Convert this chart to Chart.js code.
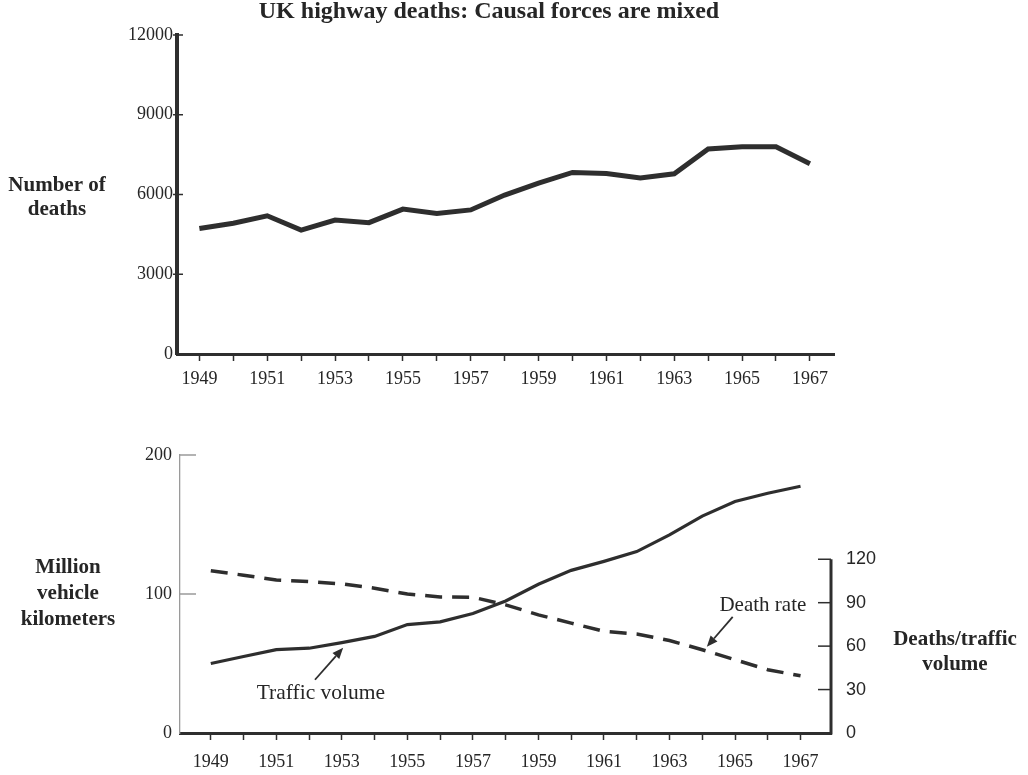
<!DOCTYPE html>
<html><head><meta charset="utf-8">
<script src="https://cdn.jsdelivr.net/npm/chart.js@4.4.0/dist/chart.umd.min.js"></script>
<style>
html,body{margin:0;padding:0;background:#fff;}
#wrap{position:relative;width:1028px;height:775px;overflow:hidden;}
.box{position:absolute;left:0;width:1028px;}
</style></head><body>
<div id="wrap">
<div class="box" style="top:0;height:400px"><canvas id="c1"></canvas></div>
<div class="box" style="top:400px;height:375px"><canvas id="c2"></canvas></div>
</div>
<script>
// ---- data ----
const years = [1949,1950,1951,1952,1953,1954,1955,1956,1957,1958,1959,1960,1961,1962,1963,1964,1965,1966,1967];
const deaths = [4720,4920,5200,4660,5040,4940,5450,5290,5420,5980,6430,6830,6790,6620,6780,7710,7800,7800,7160];
const trafficVolume = [50,55,60,61,65,69.5,78,80,86,95,107,117,123.5,130.5,142.5,156,166.5,172.5,177.5];
const deathRate = [112,109,105.7,104.6,103,100,96,94,93.8,88.5,81.6,75.9,70.2,68.3,63.9,57.5,50.6,43.7,39.5];
const deathTicks = [0,3000,6000,9000,12000];
const kmTicks = [0,100,200];
const rateTicks = [0,30,60,90,120];

const INK = '#2e2e2e';
const TXT = '#262626';
const SERIF = '"Liberation Serif", "Times New Roman", serif';
const SANS = '"Liberation Sans", Arial, sans-serif';

function pts(vals){ return years.map((y,i)=>({x:y, y:vals[i]})); }
function xTickLabel(v){ return (v % 2 === 1) ? String(v) : ''; }
function plain(v){ return String(v); }

function drawLines(ctx, lines, font, x, y0, lh){
  ctx.save();
  ctx.font = font; ctx.fillStyle = TXT; ctx.textAlign = 'center'; ctx.textBaseline = 'middle';
  lines.forEach((t,i)=>ctx.fillText(t, x, y0 + i*lh));
  ctx.restore();
}
function arrow(ctx, x1, y1, x2, y2){
  ctx.save();
  ctx.strokeStyle = INK; ctx.fillStyle = INK; ctx.lineWidth = 1.8;
  const a = Math.atan2(y2-y1, x2-x1), L = 11, W = 4.5;
  const bx = x2 - L*Math.cos(a), by = y2 - L*Math.sin(a);
  ctx.beginPath(); ctx.moveTo(x1,y1); ctx.lineTo(bx,by); ctx.stroke();
  ctx.beginPath(); ctx.moveTo(x2,y2);
  ctx.lineTo(bx + W*Math.sin(a), by - W*Math.cos(a));
  ctx.lineTo(bx - W*Math.sin(a), by + W*Math.cos(a));
  ctx.closePath(); ctx.fill();
  ctx.restore();
}

// ---- top chart ----
const topDecor = {
  id:'topDecor',
  afterDraw(chart){
    const {ctx, chartArea:ca, scales} = chart;
    ctx.save();
    ctx.strokeStyle = INK; ctx.lineWidth = 1.5;
    deathTicks.forEach(v=>{ if(v===0) return; const y = scales.y.getPixelForValue(v);
      ctx.beginPath(); ctx.moveTo(ca.left-4, y); ctx.lineTo(ca.left+6, y); ctx.stroke(); });
    ctx.restore();
    drawLines(ctx, ['UK highway deaths: Causal forces are mixed'], 'bold 24px '+SERIF, 489, 12, 0);
    drawLines(ctx, ['Number of','deaths'], 'bold 21px '+SERIF, 57, 186, 24);
  }
};

new Chart(document.getElementById('c1'), {
  type:'line',
  data:{ datasets:[{ label:'Number of deaths', data:pts(deaths), borderColor:INK, borderWidth:5,
    pointRadius:0, tension:0, fill:false, borderJoinStyle:'miter' }]},
  options:{
    responsive:true, maintainAspectRatio:false, animation:false, devicePixelRatio:1,
    layout:{padding:{top:35,right:194,bottom:0,left:0}},
    plugins:{legend:{display:false}, tooltip:{enabled:false}, title:{display:false}},
    scales:{
      x:{ type:'linear', min:1948.34, max:1967.71,
        afterBuildTicks:s=>{ s.ticks = years.map(v=>({value:v})); },
        afterFit:s=>{ s.height = 46; },
        grid:{drawOnChartArea:false, drawTicks:true, tickLength:7, tickColor:INK, tickWidth:1.5},
        border:{display:true, color:INK, width:3},
        ticks:{autoSkip:false, maxRotation:0, padding:7, color:TXT, font:{family:SERIF, size:18}, callback:xTickLabel}
      },
      y:{ min:0, max:12000,
        afterBuildTicks:s=>{ s.ticks = deathTicks.map(v=>({value:v})); },
        afterFit:s=>{ s.width = 177; },
        grid:{drawOnChartArea:false, drawTicks:false},
        border:{display:true, color:INK, width:4},
        ticks:{padding:4, color:TXT, font:{family:SERIF, size:18}, callback:plain}
      }
    }
  },
  plugins:[topDecor]
});

// ---- bottom chart ----
const ann = {
  traffic:{ text:'Traffic volume', tx:1952.36, ty:28.6, ax1:1952.18, ay1:38.3, ax2:1953.04, ay2:61.3 },
  rate:{ text:'Death rate', tx:1965.85, ty:87.8, ax1:1964.93, ay1:80.2, ax2:1964.14, ay2:59.5 }
};
const bottomDecor = {
  id:'bottomDecor',
  afterDraw(chart){
    const {ctx, chartArea:ca, scales} = chart;
    const X = scales.x, Y = scales.y, Y2 = scales.y2;
    ctx.save();
    ctx.strokeStyle = '#9a9a9a'; ctx.lineWidth = 1.5;
    kmTicks.forEach(v=>{ if(v===0) return; const y = Y.getPixelForValue(v);
      ctx.beginPath(); ctx.moveTo(ca.left, y); ctx.lineTo(ca.left+16, y); ctx.stroke(); });
    ctx.strokeStyle = INK; ctx.lineWidth = 3;
    const yTop = Y2.getPixelForValue(120);
    ctx.beginPath(); ctx.moveTo(ca.right, yTop); ctx.lineTo(ca.right, ca.bottom+1.5); ctx.stroke();
    ctx.lineWidth = 1.5;
    rateTicks.forEach(v=>{ if(v===0) return; const y = Y2.getPixelForValue(v);
      ctx.beginPath(); ctx.moveTo(ca.right-13, y); ctx.lineTo(ca.right, y); ctx.stroke(); });
    ctx.restore();
    const t = ann.traffic, r = ann.rate;
    drawLines(ctx, [t.text], '21.5px '+SERIF, X.getPixelForValue(t.tx), Y.getPixelForValue(t.ty), 0);
    arrow(ctx, X.getPixelForValue(t.ax1), Y.getPixelForValue(t.ay1), X.getPixelForValue(t.ax2), Y.getPixelForValue(t.ay2));
    drawLines(ctx, [r.text], '21px '+SERIF, X.getPixelForValue(r.tx), Y2.getPixelForValue(r.ty), 0);
    arrow(ctx, X.getPixelForValue(r.ax1), Y2.getPixelForValue(r.ay1), X.getPixelForValue(r.ax2), Y2.getPixelForValue(r.ay2));
    drawLines(ctx, ['Million','vehicle','kilometers'], 'bold 21px '+SERIF, 68, 168, 26);
    drawLines(ctx, ['Deaths/traffic','volume'], 'bold 21px '+SERIF, 955, 240, 25);
  }
};

new Chart(document.getElementById('c2'), {
  type:'line',
  data:{ datasets:[
    { label:'Traffic volume', data:pts(trafficVolume), yAxisID:'y', borderColor:INK, borderWidth:3.2,
      pointRadius:0, tension:0, fill:false },
    { label:'Death rate', data:pts(deathRate), yAxisID:'y2', borderColor:INK, borderWidth:3.5,
      borderDash:[17,10], borderCapStyle:'butt', pointRadius:0, tension:0, fill:false }
  ]},
  options:{
    responsive:true, maintainAspectRatio:false, animation:false, devicePixelRatio:1,
    layout:{padding:{top:55,right:0,bottom:0,left:0}},
    plugins:{legend:{display:false}, tooltip:{enabled:false}, title:{display:false}},
    scales:{
      x:{ type:'linear', min:1948.06, max:1967.93,
        afterBuildTicks:s=>{ s.ticks = years.map(v=>({value:v})); },
        afterFit:s=>{ s.height = 42; },
        grid:{drawOnChartArea:false, drawTicks:true, tickLength:7, tickColor:INK, tickWidth:1.5},
        border:{display:true, color:INK, width:3},
        ticks:{autoSkip:false, maxRotation:0, padding:11, color:TXT, font:{family:SERIF, size:18}, callback:xTickLabel}
      },
      y:{ position:'left', min:0, max:200,
        afterBuildTicks:s=>{ s.ticks = kmTicks.map(v=>({value:v})); },
        afterFit:s=>{ s.width = 180; },
        grid:{drawOnChartArea:false, drawTicks:false},
        border:{display:true, color:'#9a9a9a', width:1.3},
        ticks:{padding:8, color:TXT, font:{family:SERIF, size:18}, callback:plain}
      },
      y2:{ position:'right', min:0, max:192,
        afterBuildTicks:s=>{ s.ticks = rateTicks.map(v=>({value:v})); },
        afterFit:s=>{ s.width = 197; },
        grid:{drawOnChartArea:false, drawTicks:false},
        border:{display:false},
        ticks:{padding:15, color:TXT, font:{family:SANS, size:18}, callback:plain}
      }
    }
  },
  plugins:[bottomDecor]
});
</script>
</body></html>
